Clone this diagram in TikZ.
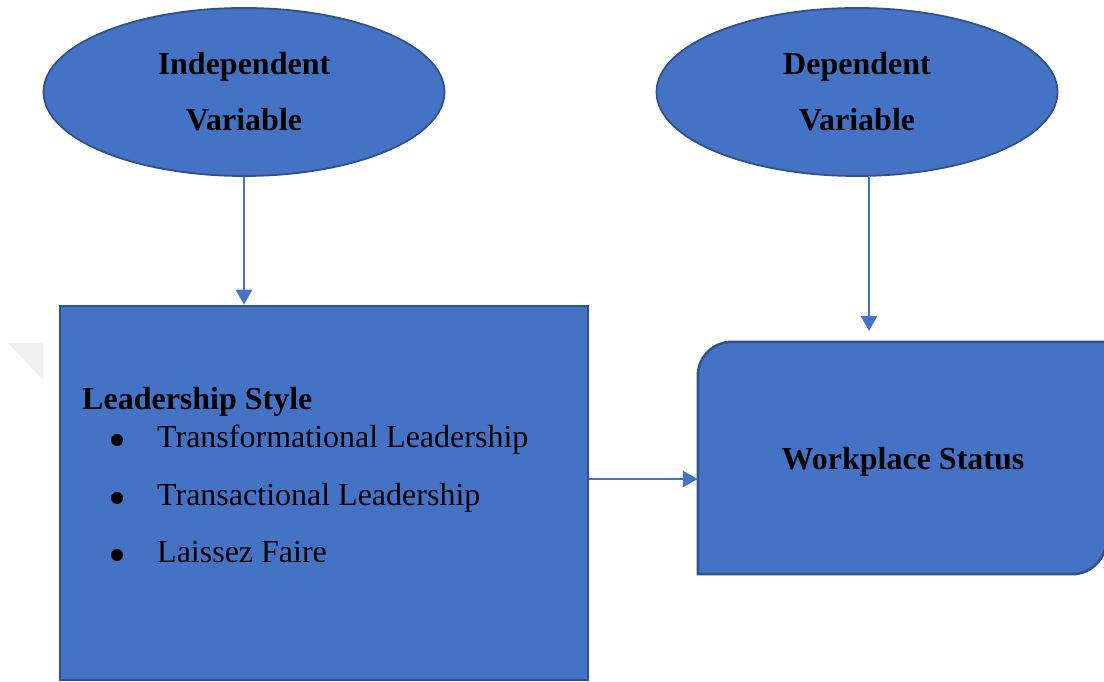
\documentclass[tikz,border=0pt]{standalone}
\usepackage{fontspec}
\setmainfont{Liberation Serif}
\usetikzlibrary{shapes.geometric,arrows.meta}
\definecolor{boxblue}{RGB}{68,114,196}
\definecolor{boxedge}{RGB}{47,82,143}
\begin{document}
\begin{tikzpicture}[x=1pt,y=1pt]

	\tikzstyle{varnode}=[ellipse,fill=boxblue,draw=boxedge,line width=1.8pt,
		minimum width=401pt,minimum height=168pt,
		align=center,font=\fontsize{32}{56}\selectfont\bfseries]
	\tikzstyle{blockline}=[fill=boxblue,draw=boxedge,line width=2.5pt]
	\tikzstyle{blockbox}=[blockline,rectangle,inner sep=0pt]
	\tikzstyle{listitem}=[anchor=base west,inner sep=0pt,
		font=\fontsize{32}{38}\selectfont]
	\tikzstyle{bulletdot}=[circle,fill=black,inner sep=0pt,minimum size=12pt]
	\tikzstyle{arrowlink}=[draw=boxblue,line width=2.6pt,
		-{Triangle[width=16pt,length=15pt]}]

	\useasboundingbox (0,0) rectangle (1104,682);
	\fill[black!6] (8,339) -- (43,339) -- (43,302) -- cycle;

	\node[varnode]	(indep)	at (244,590)	{Independent\\Variable};
	\node[varnode]	(dep)	at (857,590)	{Dependent\\Variable};

	% left block with the list of styles
	\node[blockbox,minimum width=528pt,minimum height=374pt]	(lead)	at (324,189)	{};
	\node[listitem,font=\fontsize{32}{38}\selectfont\bfseries]	(title)	at (82,272)	{Leadership Style};
	\foreach \name/\txt/\y in {trf/Transformational Leadership/234,
		trs/Transactional Leadership/176,laf/Laissez Faire/119} {
		\node[bulletdot]	(\name d)	at (117,\y+8)	{};
		\node[listitem]	(\name)	at (157,\y)	{\txt};
	}

	% right block, two corners rounded
	\node[minimum width=408pt,minimum height=232pt]	(work)	at (902,224)	{};
	\draw[blockline] (work.south west) -- ([yshift=-34pt]work.north west)
		arc[start angle=180,end angle=90,radius=34pt] -- (work.north east)
		-- ([yshift=34pt]work.south east)
		arc[start angle=0,end angle=-90,radius=34pt] -- cycle;
	\node[anchor=base,font=\fontsize{32}{38}\selectfont\bfseries]
		(worktext)	at ([xshift=1pt,yshift=-12pt]work.center)	{Workplace Status};

	\coordinate (worktop) at (869,351);
	\coordinate (hlink) at (640,203);
	\draw[arrowlink] (indep.south) -- (indep.south |- lead.north);
	\draw[arrowlink] (dep.south -| worktop) -- (worktop);
	\draw[arrowlink] (lead.east |- hlink) -- (work.west |- hlink);

\end{tikzpicture}
\end{document}
